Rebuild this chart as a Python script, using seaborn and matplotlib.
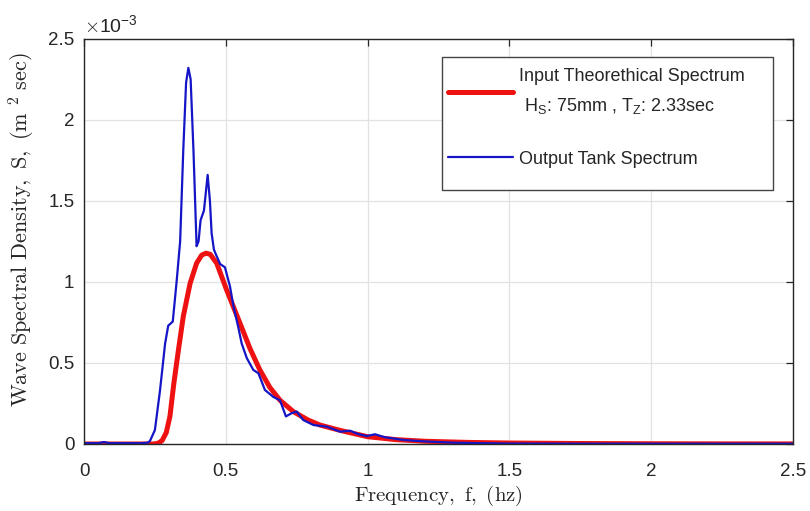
import numpy as np
import pandas as pd
import seaborn as sns
import matplotlib.pyplot as plt
from matplotlib.patches import Rectangle

# values, S in units of 1e-3 m^2 sec
f_input = [0.0, 0.20, 0.245, 0.26, 0.275, 0.29, 0.303, 0.317, 0.333, 0.350, 0.374,
           0.397, 0.415, 0.430, 0.445, 0.468, 0.503, 0.55, 0.585, 0.62, 0.655,
           0.691, 0.738, 0.79, 0.832, 0.903, 1.0, 1.1, 1.2, 1.35, 1.5, 1.75,
           2.0, 2.25, 2.5]
s_input = [0.0, 0.0, 0.0, 0.004, 0.02, 0.07, 0.17, 0.377, 0.58, 0.786, 0.99,
           1.115, 1.165, 1.177, 1.17, 1.115, 0.95, 0.745, 0.59, 0.457, 0.35,
           0.27, 0.20, 0.148, 0.117, 0.084, 0.045, 0.027, 0.017, 0.010, 0.006, 0.003,
           0.0015, 0.0008, 0.0005]

f_tank = [0.0, 0.05, 0.07, 0.09, 0.15, 0.20, 0.225, 0.233, 0.250, 0.268, 0.286,
          0.297, 0.313, 0.327, 0.339, 0.350, 0.360, 0.368, 0.376, 0.386, 0.397,
          0.404, 0.411, 0.423, 0.436, 0.444, 0.450, 0.458, 0.465, 0.480, 0.497,
          0.515, 0.527, 0.544, 0.556, 0.574, 0.597, 0.615, 0.638, 0.668, 0.691,
          0.712, 0.732, 0.750, 0.773, 0.809, 0.856, 0.903, 0.938, 0.965, 0.997,
          1.026, 1.06, 1.126, 1.2, 1.302, 1.4, 1.5, 1.75, 2.0, 2.25, 2.5]
s_tank = [0.005, 0.005, 0.012, 0.005, 0.005, 0.005, 0.008, 0.02, 0.086, 0.33, 0.62,
          0.73, 0.755, 1.01, 1.25, 1.81, 2.23, 2.32, 2.25, 1.81, 1.22,
          1.25, 1.38, 1.44, 1.66, 1.50, 1.30, 1.20, 1.17, 1.11, 1.09,
          0.97, 0.85, 0.72, 0.62, 0.53, 0.457, 0.436, 0.333, 0.29, 0.27,
          0.17, 0.19, 0.20, 0.148, 0.117, 0.107, 0.076, 0.082, 0.062, 0.049,
          0.06, 0.042, 0.025, 0.016, 0.008, 0.005, 0.003, 0.002, 0.002, 0.002, 0.002]

x_ticks = [0, 0.5, 1, 1.5, 2, 2.5]
x_ticklabels = ["0", "0.5", "1", "1.5", "2", "2.5"]
y_ticks = [0, 0.5e-3, 1e-3, 1.5e-3, 2e-3, 2.5e-3]
y_ticklabels = ["0", "0.5", "1", "1.5", "2", "2.5"]

label_input = "Input Theorethical Spectrum\n $\\mathregular{H_S}$: 75mm , $\\mathregular{T_Z}$: 2.33sec"
label_tank = "Output Tank Spectrum"

df_input = pd.DataFrame({"f": f_input, "S": np.array(s_input) * 1e-3})
df_tank = pd.DataFrame({"f": f_tank, "S": np.array(s_tank) * 1e-3})

sns.set_style("whitegrid")
plt.rcParams["font.family"] = ["Liberation Sans", "DejaVu Sans"]
plt.rcParams["mathtext.fontset"] = "cm"

W, H = 810, 511
fig = plt.figure(figsize=(8.1, 5.11), dpi=100)
ax = fig.add_axes([84 / W, 1 - 444 / H, 709 / W, 405.3 / H])

sns.lineplot(data=df_input, x="f", y="S", ax=ax, color="#ee1111", linewidth=3.6,
             label=label_input)
sns.lineplot(data=df_tank, x="f", y="S", ax=ax, color="#1515c8", linewidth=1.6,
             label=label_tank)

ax.set_xlim(0, 2.5)
ax.set_ylim(0, 2.5e-3)
ax.set_xticks(x_ticks)
ax.set_xticklabels(x_ticklabels)
ax.set_yticks(y_ticks)
ax.set_yticklabels(y_ticklabels)

# matlab style exponent above the y axis
ax.text(0.0, 1.017, r"$\times\mathregular{10^{-3}}$", transform=ax.transAxes,
        fontsize=14, color="#262626", ha="left", va="baseline")

ax.grid(True, color="#e2e2e2", linewidth=0.9)
for side in ["left", "right", "top", "bottom"]:
    ax.spines[side].set_visible(True)
    ax.spines[side].set_color("#262626")
    ax.spines[side].set_linewidth(1.0)
ax.tick_params(direction="in", length=5, width=0.9, color="#262626",
               top=True, right=True, labelsize=13.5, labelcolor="#262626")
ax.tick_params(axis="x", pad=13.5)
ax.tick_params(axis="y", pad=7)

ax.set_xlabel(r"$\mathrm{Frequency,\ f,\ (hz)}$", fontsize=15, color="#262626", labelpad=3)
ax.set_ylabel(r"$\mathrm{Wave\ Spectral\ Density,\ S,\ (m\ ^{2}\ sec)}$", fontsize=16,
              color="#262626")
ax.yaxis.set_label_coords(-0.066, 0.528)

# legend box drawn by hand so its padding matches the matlab one
box = Rectangle((442 / W, 1 - 190 / H), 331 / W, 133 / H, transform=fig.transFigure,
                facecolor="white", edgecolor="#444444", linewidth=1.0, zorder=4,
                clip_on=False)
ax.add_patch(box)
leg = ax.legend(loc="upper left", bbox_to_anchor=((448 - 84) / 709, (444 - 68) / 405.3),
                borderaxespad=0, borderpad=0, fontsize=13, frameon=False,
                handlelength=3.6, handletextpad=0.33, labelspacing=1.9)
leg.set_zorder(5)
for t in leg.get_texts():
    t.set_linespacing(1.75)

fig.savefig("out.png", dpi=100)
